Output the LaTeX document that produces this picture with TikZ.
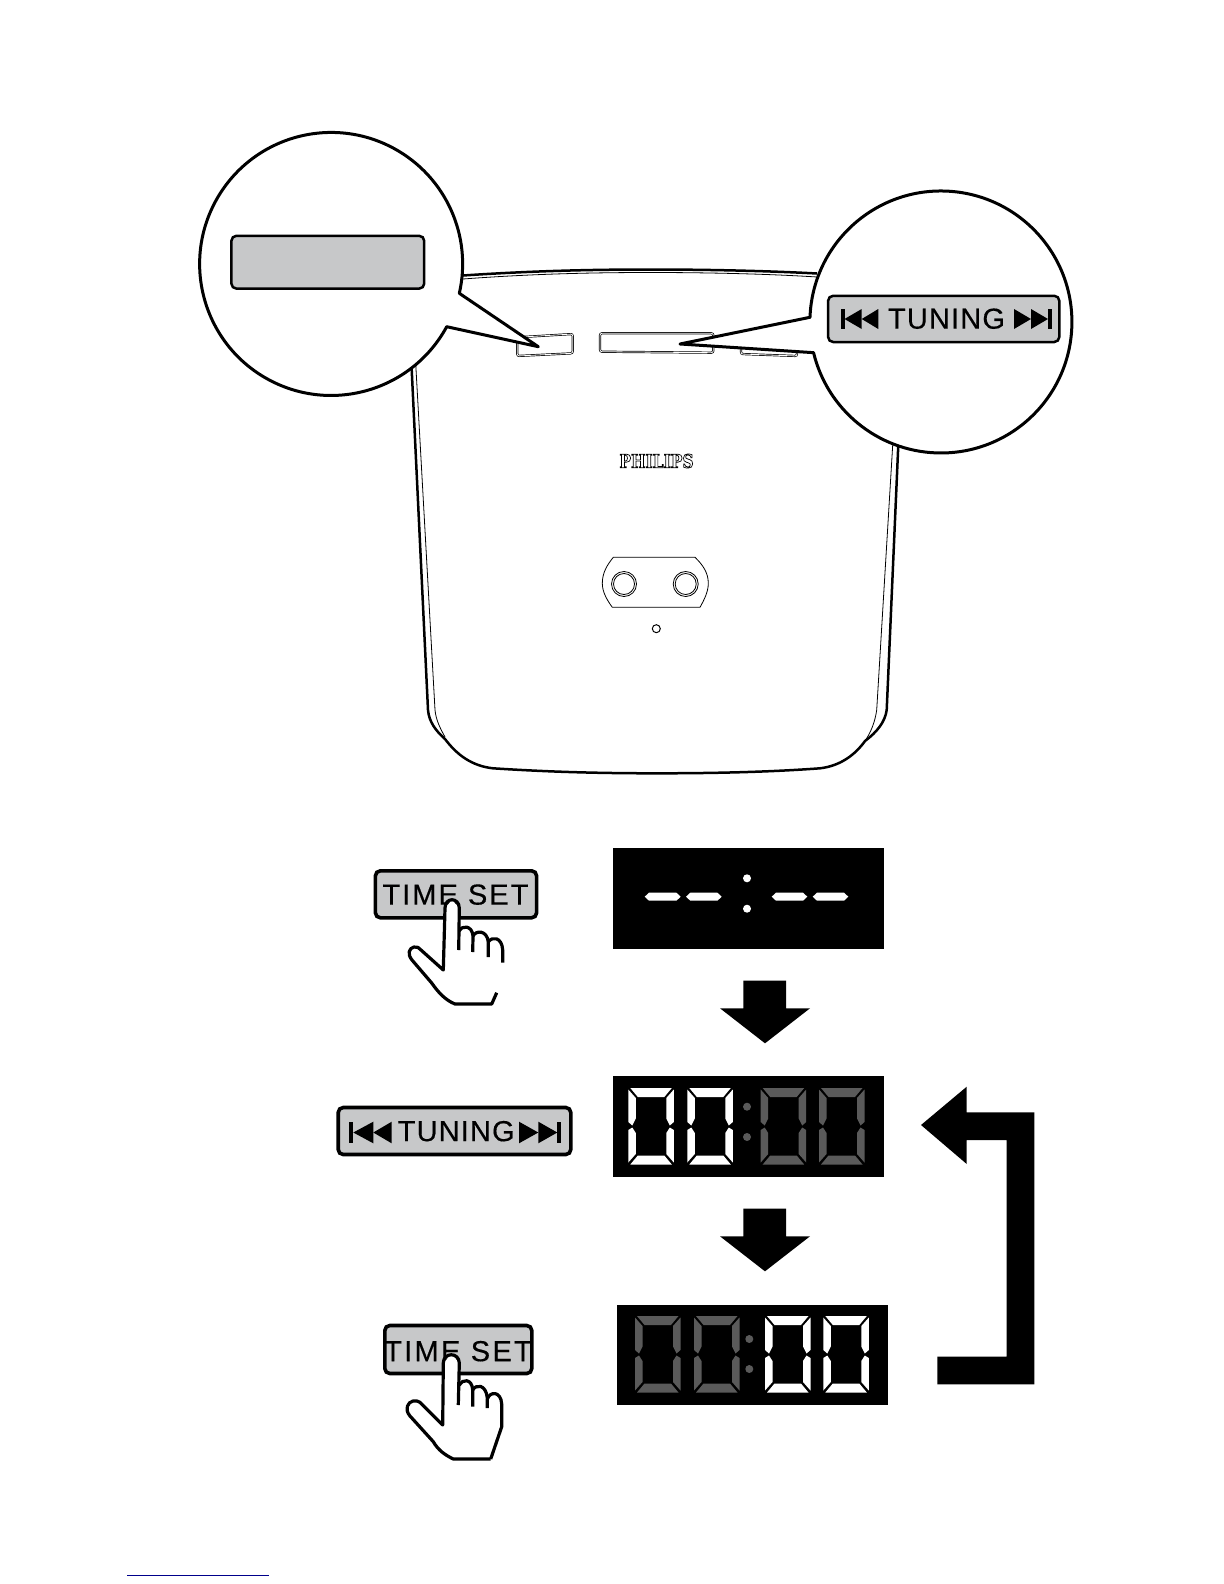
\documentclass[tikz,border=0pt]{standalone}
\usepackage{fontspec}
\setmainfont{Liberation Sans}[FakeBold=0.35]
\newfontfamily\logofont[FakeStretch=0.82]{DejaVu Serif Bold}
\definecolor{btngrey}{HTML}{C7C8C9}
\definecolor{segdim}{HTML}{5A5A5A}
\definecolor{linkblue}{HTML}{00008B}
\tikzset{
  heavy/.style={draw=black,line width=1.25pt,line join=round},
  light/.style={draw=black,line width=.4pt},
  callout/.style={draw=black,fill=white,line width=1.5pt,line join=round},
  panelbox/.style={fill=black},
  greybtn/.style={draw=black,fill=btngrey,rounded corners=2.5pt,inner sep=0pt,line width=1.8pt},
  smallbtn/.style={draw=black,line width=.35pt,double=white,double distance=.4pt,rounded corners=1pt},
  handline/.style={draw=black,line width=1.6pt,line join=round},
  lbl/.style={inner sep=0pt,font=\fontsize{14.5}{16}\selectfont},
}
\newcommand{\segdigit}[3]{%
  \begin{scope}[shift={(#1,#2)}]
    \fill[#3] (2,0)--(43.5,0)--(36,9)--(9.5,9)--cycle;
    \fill[#3] (0,1.5)--(7.5,10)--(7.5,30.5)--(4,37.5)--(0,34)--cycle;
    \fill[#3] (45.5,1.5)--(38,10)--(38,30.5)--(41.5,37.5)--(45.5,34)--cycle;
    \fill[#3] (0,42)--(4,39.5)--(7.5,45)--(7.5,66)--(0,74.5)--cycle;
    \fill[#3] (45.5,42)--(41.5,39.5)--(38,45)--(38,66)--(45.5,74.5)--cycle;
    \fill[#3] (2,76.5)--(43.5,76.5)--(36,67.5)--(9.5,67.5)--cycle;
  \end{scope}}
\newcommand{\dashseg}[2]{\fill[white] (#1,896.7)--(#1+4.3,892.7)--(#2-4.3,892.7)--(#2,896.7)--(#2-4.3,900.7)--(#1+4.3,900.7)--cycle;}
\newcommand{\downarrowshape}[1]{%
  \fill[black,shift={(0,#1)}] (743.3,980.7)--(786,980.7)--(786,1008.3)--(810,1008.3)--(765,1043.3)--(720,1008.3)--(743.3,1008.3)--cycle;}
% #1 bar left, #2 bar right, #3 first base, #4 second base, #5 top, #6 bottom
\newcommand{\skipback}[6]{\fill[black] (#1,#5) rectangle (#2,#6);
  \fill[black] (#2,{(#5+#6)/2})--(#3,#5)--(#3,#6)--cycle;
  \fill[black] (#3,{(#5+#6)/2})--(#4,#5)--(#4,#6)--cycle;}
\newcommand{\skipnext}[6]{\fill[black] (#1,#5) rectangle (#2,#6);
  \fill[black] (#1,{(#5+#6)/2})--(#3,#5)--(#3,#6)--cycle;
  \fill[black] (#3,{(#5+#6)/2})--(#4,#5)--(#4,#6)--cycle;}
\begin{document}
\begin{tikzpicture}[x=0.5pt,y=-0.5pt]
\useasboundingbox (0,0) rectangle (1224,1584);

% device body
\draw[heavy] (411,355) -- (428,710) .. controls (429,722) and (436,731) .. (445,739)
  .. controls (457,755) and (472,766) .. (493,768.3)
  .. controls (550,772) and (600,773.3) .. (656.7,773.3)
  .. controls (715,773.3) and (770,772) .. (820,768.3)
  .. controls (840,766) and (855,755) .. (865,741)
  .. controls (877,732) and (885,722) .. (886.7,710) -- (898.5,440);
\draw[light] (415.5,360) -- (435,710) .. controls (436,720) and (440,728) .. (445,737);
\draw[light] (893,440) -- (876.7,710) .. controls (875,722) and (871,732) .. (865,741);
\draw[heavy] (463,275.5) .. controls (530,271) and (590,269.5) .. (650,269.5)
  .. controls (710,269.5) and (770,271) .. (817,273.5);
\draw[light] (463,279) .. controls (530,274) and (590,272.5) .. (650,272.5)
  .. controls (710,272.5) and (770,274) .. (817,277);

% device buttons
\draw[smallbtn] (517.3,337.3) -- (572.7,334) -- (572.7,353.3) -- (517.3,356) -- cycle;
\draw[smallbtn] (600,333.3) -- (713.3,333.3) -- (713.3,352.7) -- (600,351.7) -- cycle;
\draw[smallbtn] (741,345) -- (797,345) -- (797,356) -- (741,354) -- cycle;

% logo
\node[inner sep=0pt] (logo) at (656.5,461) {\logofont\fontsize{9.4}{12}\selectfont\special{pdf:code 1 Tr 0.35 w}PHILIPS\special{pdf:code 0 Tr}};

% jack plate
\draw[light] (613.3,557.3) -- (695,557.3) .. controls (703,565) and (708.3,573) .. (708.3,583.3)
  .. controls (708.3,592) and (704,600) .. (700,607.3) -- (612.3,607.3)
  .. controls (607,600) and (602.3,592) .. (602.3,583.3)
  .. controls (602.3,573) and (607,565) .. cycle;
\draw[light] (624,584) circle[radius=12.5];
\draw[light] (624,584) circle[radius=10.5];
\draw[light] (685.7,584) circle[radius=12.5];
\draw[light] (685.7,584) circle[radius=10.5];
\draw[light,line width=.5pt] (656.3,628.7) circle[radius=4];

% callouts
\draw[callout] (446.7,326.7) arc[start angle=28.5,end angle=372.9,radius=131.5] -- (538.3,346.7) -- cycle;
\draw[callout] (810,317.3) arc[start angle=182.05,end angle=526.45,radius=131] -- (680,344) -- cycle;

\node[greybtn,line width=1.25pt,minimum width=96.4pt,minimum height=26.4pt] (blankbtn) at (327.8,262.2) {};
\node[greybtn,line width=1.25pt,minimum width=115.6pt,minimum height=23.1pt] (tunetop) at (943.7,318.9) {};
\node[lbl] (tunetoptxt) at (946.5,318.7) {\addfontfeature{LetterSpace=4}TUNING};
\skipback{841}{844.5}{861.7}{878.3}{309}{329}
\skipnext{1048}{1051.5}{1031}{1014}{309}{329}

% first step
\node[greybtn,minimum width=80.6pt,minimum height=23.5pt] (timeone) at (456,894.3) {};
\node[lbl] (timeonetxt) at (455.5,894.6) {\addfontfeature{LetterSpace=7}TIME SET};
\fill[white] (496.7,992.7) -- (491.7,1004) -- (455,1004) -- (431.7,983) -- (412,960) -- (414,947) -- (443.3,970) -- (445,908) -- (452,900) -- (459.3,908) -- (459.3,931) -- (466,926) -- (473,935) -- (481,931) -- (488.3,941) -- (496,938) -- (502.7,950) -- (502.7,962.7) -- cycle;
\draw[handline] (496.7,992.7) -- (491.7,1004) -- (455,1004) .. controls (445,1000) and (438,992) .. (431.7,983) -- (412,960)
  .. controls (407,954) and (409,948) .. (414,947) .. controls (417,946) and (419,948) .. (421,950)
  -- (443.3,970) -- (445,908) .. controls (445,897) and (459,897) .. (459.3,908) -- (458.7,950);
\draw[handline] (459.3,931) .. controls (462,925) and (472,925) .. (473,936) -- (472.7,952);
\draw[handline] (473,936) .. controls (476,930) and (487,930) .. (488.3,942) -- (488.3,957);
\draw[handline] (488.3,942) .. controls (492,936) and (502,937) .. (502.7,950) -- (502.7,962.7);

\fill[panelbox] (613,848.3) rectangle (884,949);
\dashseg{644.7}{680.7}
\dashseg{686}{721.7}
\dashseg{771.7}{807.3}
\dashseg{812.7}{848.3}
\fill[white] (747,878.3) circle[radius=4];
\fill[white] (747,908.7) circle[radius=4];

\downarrowshape{0}

% second step
\node[greybtn,minimum width=116.3pt,minimum height=23.5pt] (tunelow) at (454.5,1131) {};
\node[lbl] (tunelowtxt) at (456.2,1131.2) {\addfontfeature{LetterSpace=4}TUNING};
\skipback{349.3}{353.3}{373.3}{391.7}{1121.7}{1143.3}
\skipnext{557.3}{561}{538.3}{519}{1121.7}{1143.3}

\fill[panelbox] (613,1076) rectangle (884,1176.7);
\segdigit{628.3}{1088}{white}
\segdigit{687.3}{1088}{white}
\segdigit{760.7}{1088}{segdim}
\segdigit{819}{1088}{segdim}
\fill[segdim] (747,1106.7) circle[radius=4];
\fill[segdim] (747,1137) circle[radius=4];

\downarrowshape{228}

% third step
\node[greybtn,minimum width=73.5pt,minimum height=24pt] (timetwo) at (458.3,1349.5) {};
\node[lbl] (timetwotxt) at (458,1351.2) {\addfontfeature{LetterSpace=8}TIME SET};
\fill[white] (490.7,1459) -- (453.3,1459) -- (433.3,1441.7) -- (410,1416) -- (412,1401) -- (420,1402.3) -- (442.7,1425) -- (443.3,1363) -- (451.7,1354) -- (459.3,1363) -- (459.3,1385) -- (466,1380) -- (472.7,1390) -- (480,1386) -- (487.3,1398) -- (495,1393) -- (501.7,1404) -- (501.7,1426.7) -- cycle;
\draw[handline] (490.7,1459) -- (453.3,1459) .. controls (445,1455) and (438,1450) .. (433.3,1441.7) -- (410,1416)
  .. controls (404,1409) and (408,1402) .. (413,1401) .. controls (416,1400.5) and (418,1401) .. (420,1402.3)
  -- (442.7,1425) -- (443.3,1363) .. controls (443.5,1352) and (459,1352) .. (459.3,1363) -- (458.3,1405);
\draw[handline] (490.7,1459) -- (501.7,1426.7) -- (501.7,1404) .. controls (501,1391) and (490,1391) .. (487.3,1399) -- (487.3,1408);
\draw[handline] (459.3,1385) .. controls (462,1379) and (472,1378) .. (472.7,1390) -- (472.7,1406.7);
\draw[handline] (472.7,1390) .. controls (476,1384) and (486,1384) .. (487.3,1398);

\fill[panelbox] (617,1305) rectangle (887.7,1405);
\segdigit{635}{1316}{segdim}
\segdigit{694}{1316}{segdim}
\segdigit{765}{1316}{white}
\segdigit{823.3}{1316}{white}
\fill[segdim] (749.3,1339) circle[radius=4];
\fill[segdim] (749.3,1369) circle[radius=4];

% return arrow
\fill[black] (937.3,1384.3) -- (1034.3,1384.3) -- (1034.3,1112.3) -- (966.7,1112.3) -- (966.7,1086.7) -- (921,1125) -- (966.7,1164) -- (966.7,1140) -- (1006.7,1140) -- (1006.7,1356.7) -- (937.3,1356.7) -- cycle;

% rule at the foot of the page
\draw[linkblue,line width=.5pt] (127.3,1575) -- (269,1575);
\end{tikzpicture}
\end{document}
